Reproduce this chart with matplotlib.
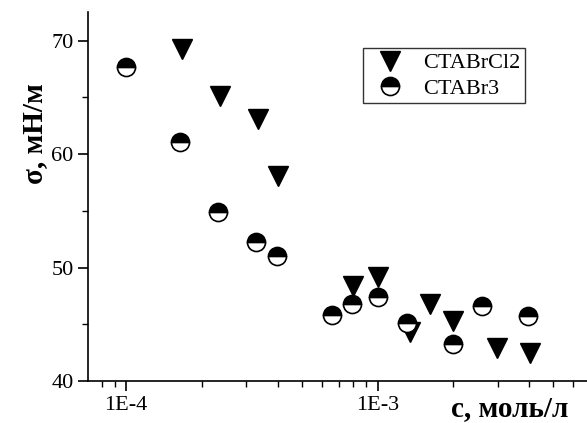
import numpy as np
import matplotlib.pyplot as plt

# concentration, mol/l and surface tension, mN/m
c_cl2 = [1.67e-4, 2.36e-4, 3.34e-4, 4.0e-4, 7.96e-4, 1.0e-3, 1.35e-3, 1.61e-3, 2.0e-3, 2.99e-3, 4.05e-3]
s_cl2 = [69.3, 65.1, 63.1, 58.1, 48.4, 49.2, 44.3, 46.8, 45.3, 42.9, 42.5]

c_br3 = [1.0e-4, 1.64e-4, 2.32e-4, 3.28e-4, 3.97e-4, 6.56e-4, 7.88e-4, 1.0e-3, 1.31e-3, 1.99e-3, 2.61e-3, 3.97e-3]
s_br3 = [67.7, 61.1, 54.9, 52.3, 51.0, 45.8, 46.8, 47.4, 45.1, 43.3, 46.6, 45.7]

plt.rcParams['font.family'] = ['Liberation Serif', 'DejaVu Serif']

fig = plt.figure(figsize=(5.87, 4.23), dpi=100)
ax = fig.add_axes([0.150, 0.099, 0.850, 0.872])

ax.plot(c_cl2, s_cl2, linestyle='none', marker='v', markersize=14,
        color='black', label='CTABrCl2')
ax.plot(c_br3, s_br3, linestyle='none', marker='o', markersize=13,
        fillstyle='top', markerfacecolor='black', markerfacecoloralt='white',
        markeredgecolor='black', markeredgewidth=1.2, label='CTABr3')

ax.set_xscale('log')
ax.set_xlim(7.06e-5, 6.8e-3)
ax.set_ylim(40, 72.5)
ax.set_yticks([40, 50, 60, 70])
ax.set_yticks([45, 55, 65], minor=True)
ax.set_xticks([1e-4, 1e-3])
ax.set_xticklabels(['1E-4', '1E-3'])

for s in ['top', 'right']:
    ax.spines[s].set_visible(False)
for s in ['left', 'bottom']:
    ax.spines[s].set_linewidth(1.2)

ax.tick_params(which='major', direction='out', length=7, width=1.2, labelsize=16)
ax.tick_params(which='minor', direction='out', length=4, width=1.0)
ax.tick_params(axis='x', which='minor', labelbottom=False)

ax.set_ylabel('σ, мН/м', fontsize=21, fontweight='bold', va='center')
ax.yaxis.set_label_coords(-0.108, 0.672)
ax.set_xlabel('c, моль/л', fontsize=21, fontweight='bold', ha='right', va='baseline')
ax.xaxis.set_label_coords(0.962, -0.094)

leg = ax.legend(loc='upper left', bbox_to_anchor=(0.551, 0.902), fontsize=16,
                frameon=True, fancybox=False, edgecolor='black',
                handletextpad=0.5, borderpad=0.2, labelspacing=0.22,
                handlelength=2.0, borderaxespad=0)
leg.get_frame().set_linewidth(1.0)

fig.savefig('out.png', dpi=100)
